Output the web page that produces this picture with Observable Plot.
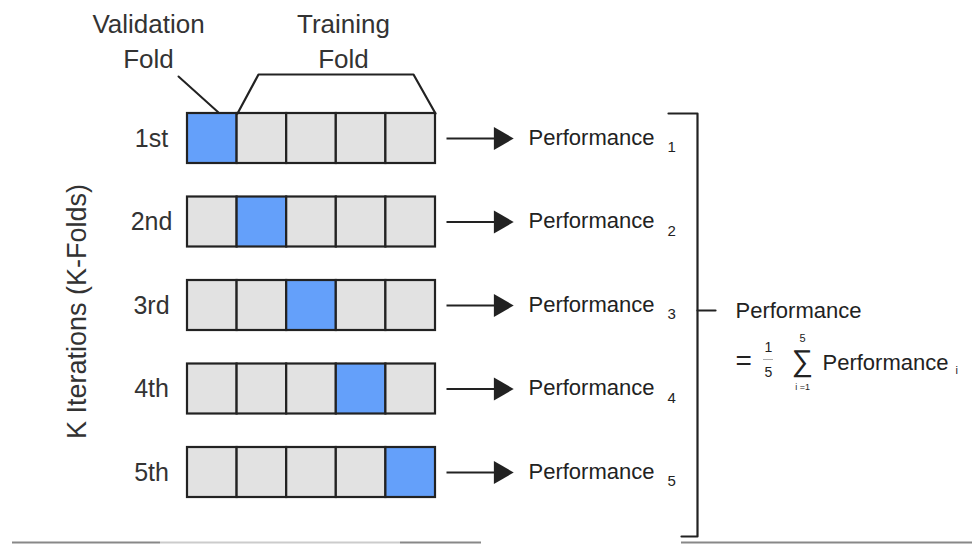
<!DOCTYPE html>
<html><head><meta charset="utf-8">
<script src="https://cdn.jsdelivr.net/npm/d3@7"></script>
<script src="https://cdn.jsdelivr.net/npm/@observablehq/plot@0.6"></script>
<style>body{margin:0;background:#fff}</style>
</head><body><div id="chart"></div>
<script>
// ---- data ----
const iterations = ["1st", "2nd", "3rd", "4th", "5th"];
const validationFold = [0, 1, 2, 3, 4];
const foldCount = 5;
const foldTypes = ["Validation", "Training"];
const topLabels = ["Validation\nFold", "Training\nFold"];
const perfSubscripts = ["1", "2", "3", "4", "5"];
const axisTitle = "K Iterations (K-Folds)";

// ---- layout ----
const W = 978, H = 544;
const X0 = 187, CW = 49.6, CH = 50;
const rowY = k => 138 + k * 83.5;
const font = "Liberation Sans, Arial, sans-serif";
const ink = "#222";

const cells = [];
iterations.forEach((it, k) => {
  for (let i = 0; i < foldCount; i++) {
    cells.push({row: k, fold: i, type: i === validationFold[k] ? foldTypes[0] : foldTypes[1]});
  }
});
const rows = iterations.map((label, k) => ({label, k, sub: perfSubscripts[k]}));

const bx = 697, bTop = 113, bBot = 536, bMid = 310;

const chart = Plot.plot({
  width: W, height: H,
  margin: 0,
  x: {domain: [0, W], range: [0, W], axis: null},
  y: {domain: [0, H], range: [0, H], axis: null},
  color: {domain: foldTypes, range: ["#64a0fa", "#e2e2e2"]},
  style: {fontFamily: font, background: "#fff"},
  marks: [
    // bottom screenshot edge lines
    Plot.ruleY([542], {x1: 12, x2: 160, stroke: "#888", strokeWidth: 2}),
    Plot.ruleY([542], {x1: 160, x2: 400, stroke: "#ccc", strokeWidth: 2}),
    Plot.ruleY([542], {x1: 400, x2: 481, stroke: "#888", strokeWidth: 2}),
    Plot.ruleY([542], {x1: 681, x2: 972, stroke: "#888", strokeWidth: 2}),
    // fold cells
    Plot.rect(cells, {
      x1: d => X0 + d.fold * CW, x2: d => X0 + (d.fold + 1) * CW,
      y1: d => rowY(d.row) - CH / 2, y2: d => rowY(d.row) + CH / 2,
      fill: "type", stroke: ink, strokeWidth: 2.2
    }),
    // iteration labels
    Plot.text(rows, {x: 151, y: d => rowY(d.k), text: "label", textAnchor: "middle",
      fontSize: 25, fill: "#333"}),
    // arrows
    Plot.link(rows, {x1: 446, x2: 494, y1: d => rowY(d.k), y2: d => rowY(d.k), stroke: ink, strokeWidth: 2.2}),
    Plot.dot(rows, {x: 500, y: d => rowY(d.k), symbol: "triangle", rotate: 90, r: 8.5, fill: ink, stroke: "none"}),
    // performance labels
    Plot.text(rows, {x: 528, y: d => rowY(d.k) - 1, text: () => "Performance", textAnchor: "start",
      fontSize: 22, fill: "#222"}),
    Plot.text(rows, {x: 667, y: d => rowY(d.k) + 9, text: "sub", textAnchor: "start", fontSize: 15, fill: "#222"}),
    // top labels
    Plot.text([topLabels[0]], {x: 148, y: 39, text: d => d, fontSize: 26, lineHeight: 1.35, fill: "#333"}),
    Plot.text([topLabels[1]], {x: 343, y: 39, text: d => d, fontSize: 26, lineHeight: 1.35, fill: "#333"}),
    // validation pointer
    Plot.line([[178, 76], [218, 112]], {x: d => d[0], y: d => d[1], stroke: ink, strokeWidth: 2}),
    // training bracket
    Plot.line([[237, 113], [258, 74], [413, 74], [435, 113]], {x: d => d[0], y: d => d[1], stroke: ink, strokeWidth: 2.2}),
    // right bracket
    Plot.line([[668, bTop], [bx, bTop], [bx, bBot], [681, bBot]], {x: d => d[0], y: d => d[1], stroke: ink, strokeWidth: 2.2}),
    Plot.line([[bx, bMid], [715, bMid]], {x: d => d[0], y: d => d[1], stroke: ink, strokeWidth: 2.2}),
    // y axis title
    Plot.text([axisTitle], {x: 77, y: 311, text: d => d, rotate: -90, fontSize: 27, fill: "#333"}),
    // formula
    Plot.text(["Performance"], {x: 735, y: 310, text: d => d, textAnchor: "start", fontSize: 22, fill: "#222"}),
    Plot.text(["="], {x: 735, y: 361, text: d => d, textAnchor: "start", fontSize: 28, fill: "#222"}),
    Plot.text(["1"], {x: 768, y: 347, text: d => d, fontSize: 14, fill: "#222"}),
    Plot.ruleY([359], {x1: 763, x2: 773, stroke: "#999", strokeWidth: 0.8}),
    Plot.text(["5"], {x: 768, y: 372, text: d => d, fontSize: 14, fill: "#222"}),
    Plot.text(["∑"], {x: 802, y: 361, text: d => d, fontSize: 30, fill: "#222"}),
    Plot.text(["5"], {x: 802, y: 338, text: d => d, fontSize: 11, fill: "#222"}),
    Plot.text(["i =1"], {x: 802, y: 387, text: d => d, fontSize: 9, fill: "#222"}),
    Plot.text(["Performance"], {x: 822, y: 362, text: d => d, textAnchor: "start", fontSize: 22, fill: "#222"}),
    Plot.text(["i"], {x: 955, y: 370, text: d => d, textAnchor: "start", fontSize: 11, fill: "#222"})
  ]
});
document.getElementById("chart").append(chart);
</script>
</body></html>
